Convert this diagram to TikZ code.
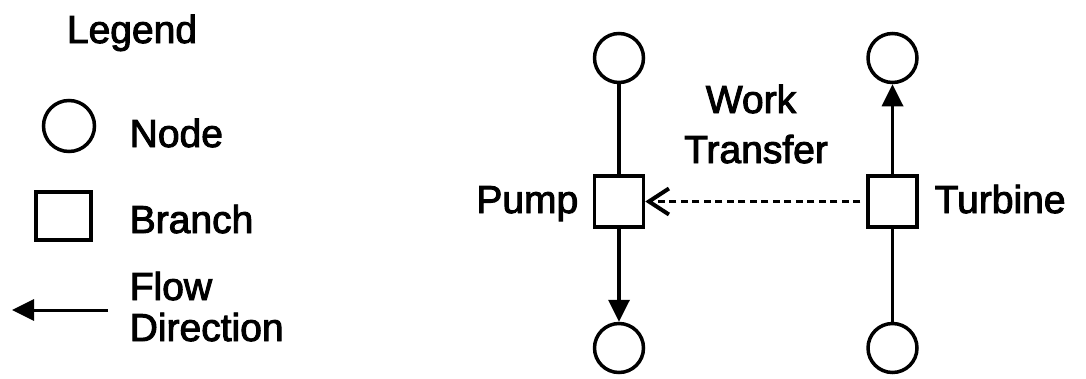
\documentclass[tikz,border=0pt]{standalone}
\usepackage{fontspec}
\setmainfont{Liberation Sans}[FakeBold=2.5]
\usepackage{tikz}
\usetikzlibrary{arrows.meta,positioning}

\begin{document}
\begin{tikzpicture}[x=1pt,y=-1pt,line width=3.5pt,
    vertex/.style={draw,circle,minimum size=49pt,inner sep=0pt},
    branch/.style={draw,rectangle,minimum width=49pt,minimum height=51pt,inner sep=0pt},
    lbl/.style={inner sep=0pt,font=\fontsize{39}{44}\selectfont},
    flow/.style={-{Triangle[length=22pt,width=21pt]}},
    transfer/.style={dash pattern=on 7pt off 4.5pt,line width=3pt,
        -{Straight Barb[length=20pt,width=26pt,line width=4pt]},shorten <=6pt}]
\useasboundingbox (0,0) rectangle (1086,378);

% legend
\node[lbl,anchor=base] (legend) at (132,43) {Legend};
\node[vertex,minimum size=51pt] (lnode) at (69,126) {};
\node[lbl,anchor=base west] (lnodetxt) at (128,147) {Node};
\node[branch,minimum width=55pt,minimum height=48pt] (lbranch) at (63.5,216) {};
\node[lbl,anchor=base west] (lbranchtxt) at (128,233) {Branch};
\coordinate (lflowa) at (108,310);
\coordinate (lflowb) at (12,310);
\draw[flow,line width=3pt] (lflowa) -- (lflowb);
\node[lbl,anchor=base west] (lflowtxt) at (128,300) {Flow};
\node[lbl,anchor=base west] (ldirtxt) at (128,341) {Direction};

% pump and turbine columns
\foreach \col/\x in {p/619,t/892.5} {
    \node[vertex] (\col top) at (\x,58) {};
    \node[branch] (\col box) at (\x,201.5) {};
    \node[vertex] (\col bot) at (\x,348) {};
}
\draw (ptop) -- (pbox);
\draw[flow] (pbox) -- (pbot);
\draw (tbot) -- (tbox);
\draw[flow] (tbox) -- (ttop);
\draw[transfer] (tbox) -- (pbox);

\node[lbl,anchor=base east] (pumptxt) at (580,213) {Pump};
\node[lbl,anchor=base west] (turbtxt) at (933,213) {Turbine};
\node[lbl,anchor=base] (worktxt) at (751,113) {Work};
\node[lbl,anchor=base] (transtxt) at (756,163) {Transfer};
\end{tikzpicture}
\end{document}
